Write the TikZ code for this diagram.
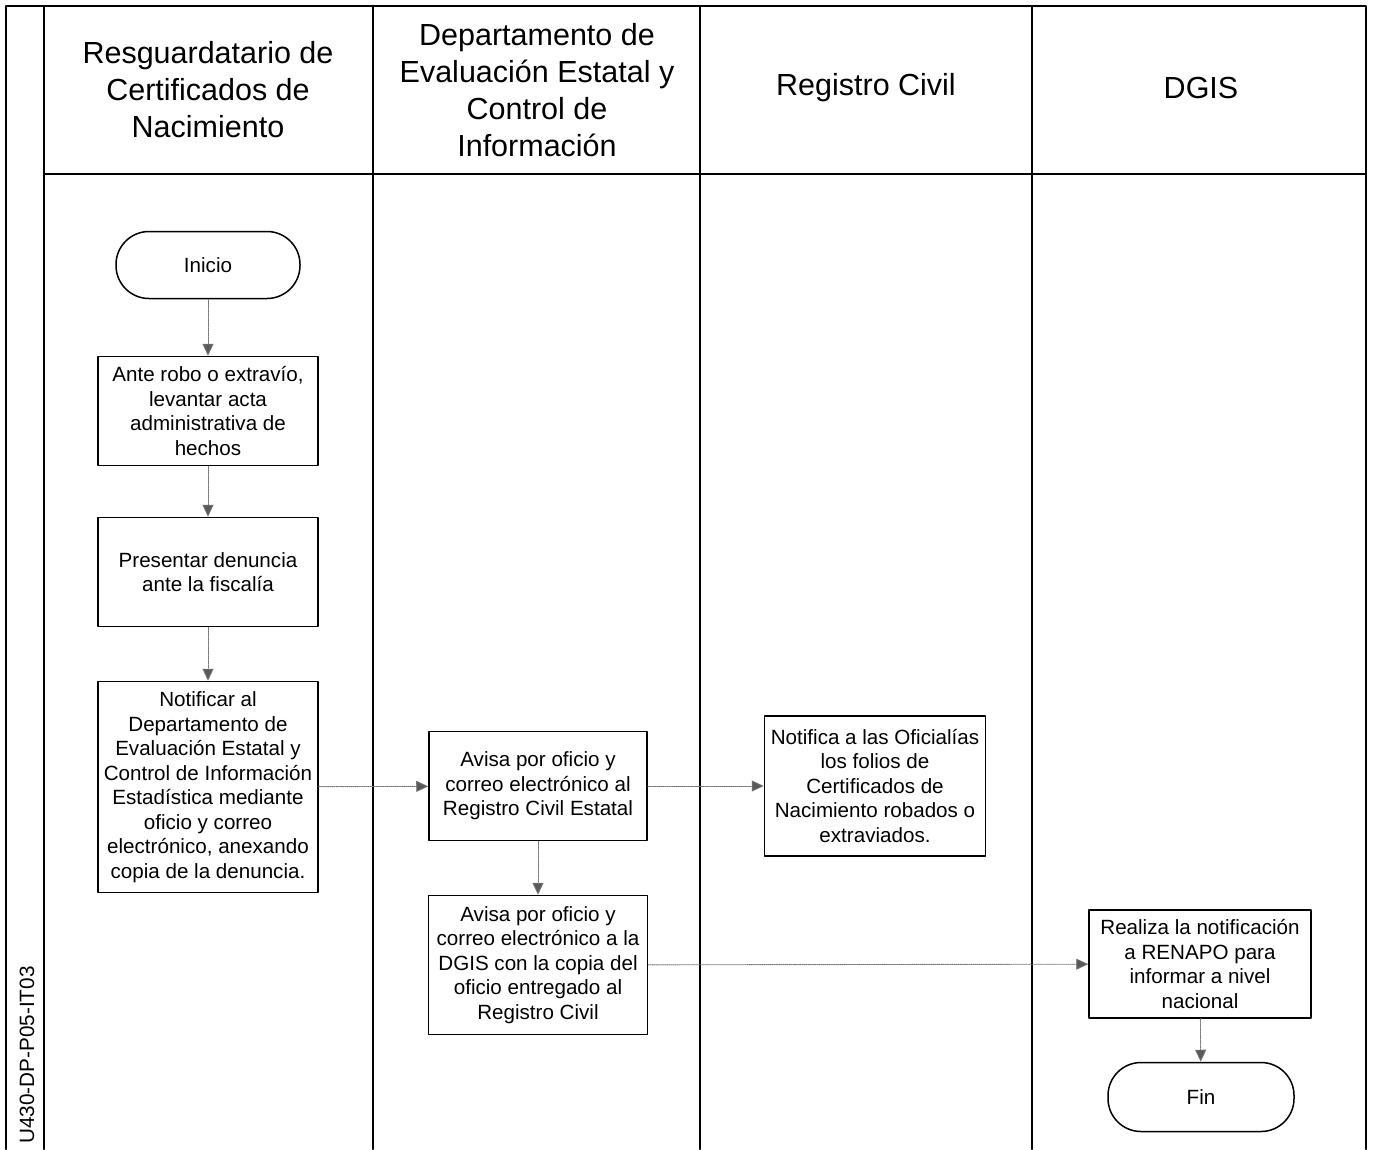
\documentclass[tikz,border=0pt]{standalone}
\usepackage{fontspec}
\setmainfont{Liberation Sans}
\usetikzlibrary{arrows.meta}

\begin{document}
\begin{tikzpicture}[x=1pt, y=-1pt, line cap=round, line join=round,
    carril/.style={align=center, font=\fontsize{30.5}{37}\selectfont},
    caja/.style={draw, line width=1.5pt, align=center, minimum width=220pt,
      inner sep=2pt, font=\fontsize{20.6}{24.5}\selectfont},
    term/.style={draw, line width=1.5pt, rounded corners=33pt, minimum width=184pt,
      minimum height=67pt, font=\fontsize{20.6}{24.5}\selectfont},
    flecha/.style={densely dotted, line width=0.9pt, black!55,
      -{Triangle[length=12pt, width=11pt, fill=black!65]}}]
  \useasboundingbox (0,0) rectangle (1373,1149);
  % --- marco y carriles ---
  \draw[line width=2.2pt] (6,1149) -- (6,6) -- (1366,6) -- (1366,1149);
  \draw[line width=2.2pt] (44,6) -- (44,1149);
  \foreach \x in {373,700,1032}
    \draw[line width=2.2pt] (\x,6) -- (\x,1149);
  \draw[line width=2.2pt] (44,174) -- (1366,174);
  % --- encabezados ---
  \node[carril] (hresg) at (208,90) {Resguardatario de\\Certificados de\\Nacimiento};
  \node[carril] (hdepto) at (537,90) {Departamento de\\Evaluación Estatal y\\Control de\\Información};
  \node[carril] (hrc) at (866,88) {Registro Civil};
  \node[carril] (hdgis) at (1201,88) {DGIS};
  \node[rotate=90, anchor=west, font=\fontsize{20.7}{22}\selectfont] (clave) at (27,1147) {U430-DP-P05-IT03};
  % --- actividades ---
  \node[term] (inicio) at (208,265) {Inicio};
  \node[caja, minimum height=109pt] (robo) at (208,411) {Ante robo o extravío,\\levantar acta\\administrativa de\\hechos};
  \node[caja, minimum height=109pt] (denuncia) at (208,572) {Presentar denuncia\\ante la fiscalía};
  \node[caja, minimum height=211pt] (notificar) at (208,787) {Notificar al\\Departamento de\\Evaluación Estatal y\\Control de Información\\Estadística mediante\\oficio y correo\\electrónico, anexando\\copia de la denuncia.};
  \node[caja, minimum width=218pt, minimum height=109pt] (avisarc) at (538,786) {Avisa por oficio y\\correo electrónico al\\Registro Civil Estatal};
  \node[caja, minimum width=219pt, minimum height=139pt] (avisadgis) at (538,965) {Avisa por oficio y\\correo electrónico a la\\DGIS con la copia del\\oficio entregado al\\Registro Civil};
  \node[caja, minimum width=221pt, minimum height=140pt] (oficialias) at (875,786) {Notifica a las Oficialías\\los folios de\\Certificados de\\Nacimiento robados o\\extraviados.};
  \node[caja, minimum width=222pt, minimum height=108pt] (renapo) at (1200,964) {Realiza la notificación\\a RENAPO para\\informar a nivel\\nacional};
  \node[term, minimum width=186pt, minimum height=69pt] (fin) at (1201,1097) {Fin};
  % --- flujo ---
  \draw[flecha] (inicio) -- (robo);
  \draw[flecha] (robo) -- (denuncia);
  \draw[flecha] (denuncia) -- (notificar);
  \draw[flecha] (notificar) -- (avisarc);
  \draw[flecha] (avisarc) -- (oficialias);
  \draw[flecha] (avisarc) -- (avisadgis);
  \draw[flecha] (avisadgis) -- (renapo);
  \draw[flecha] (renapo) -- (fin);
\end{tikzpicture}
\end{document}
